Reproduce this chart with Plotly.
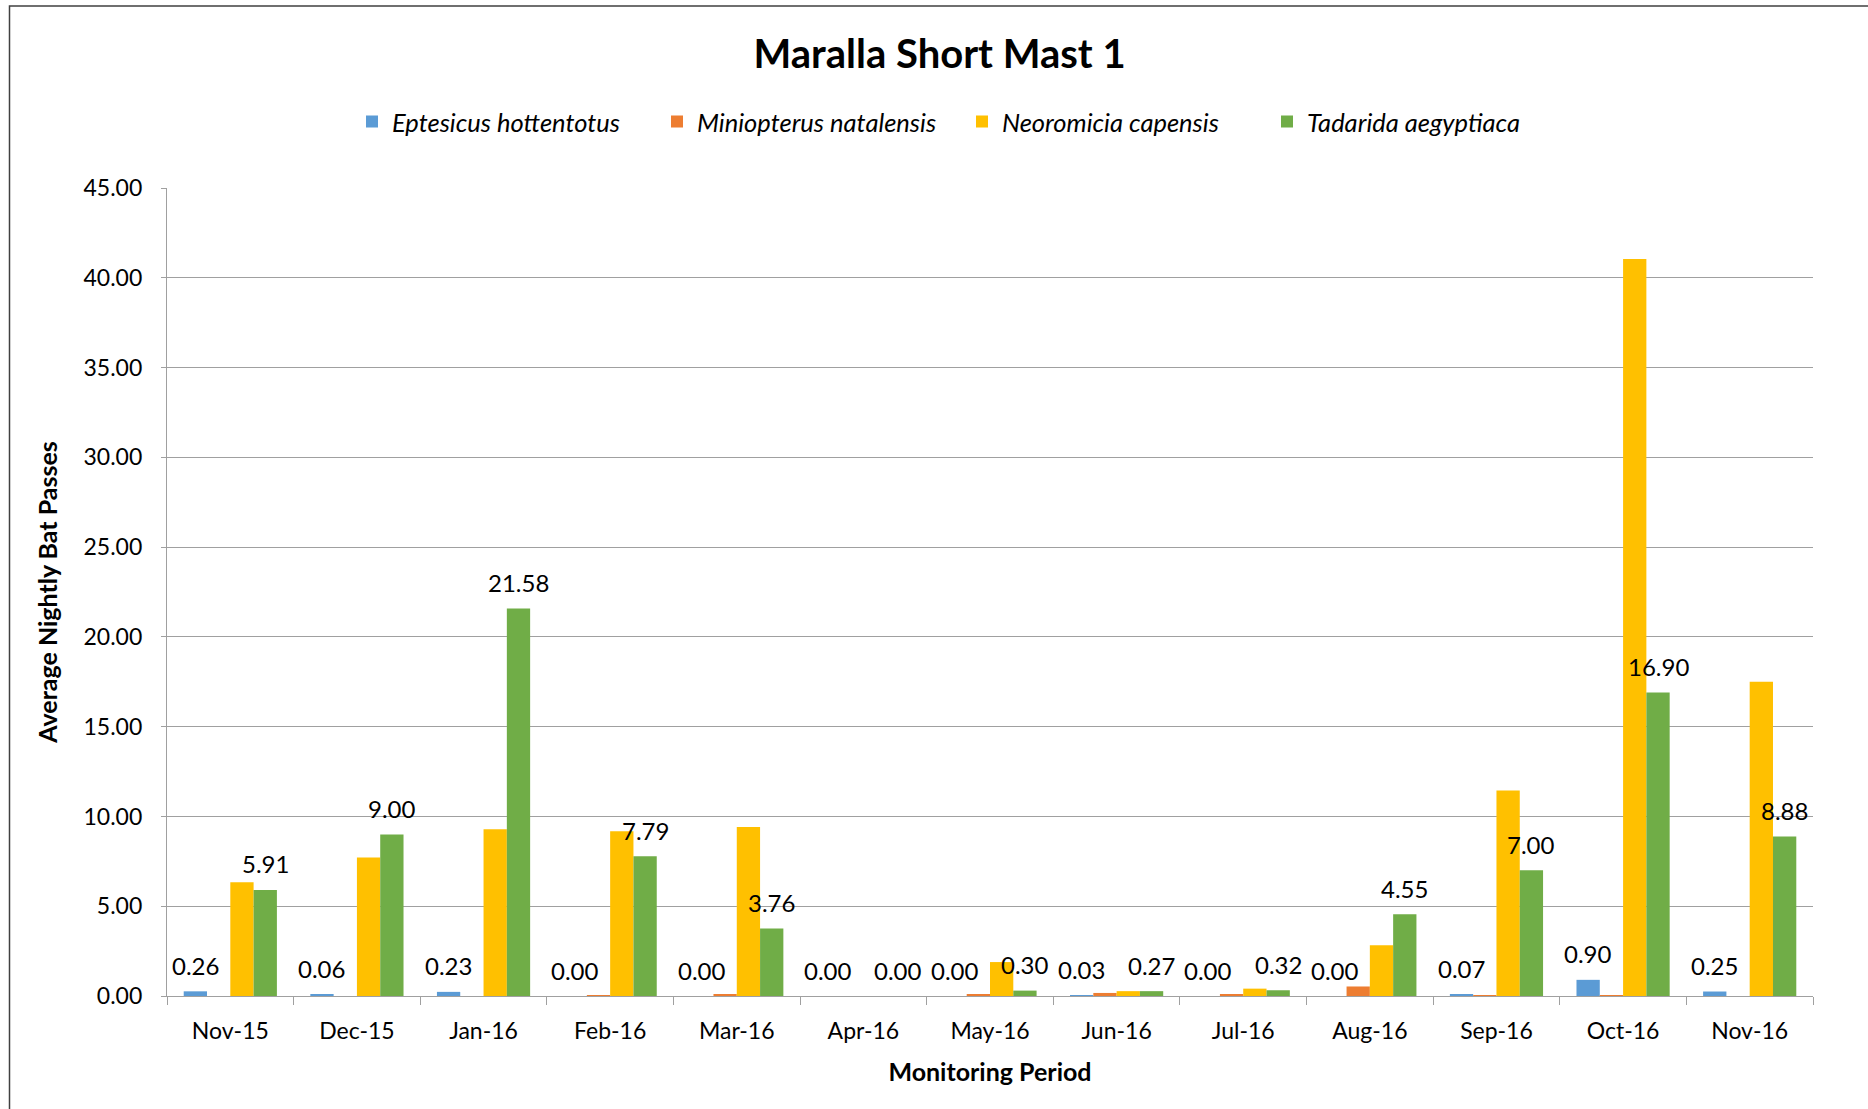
import plotly.graph_objects as go

months = ["Nov-15", "Dec-15", "Jan-16", "Feb-16", "Mar-16", "Apr-16", "May-16",
          "Jun-16", "Jul-16", "Aug-16", "Sep-16", "Oct-16", "Nov-16"]
eptesicus = [0.26, 0.06, 0.23, 0.00, 0.00, 0.00, 0.00, 0.03, 0.00, 0.00, 0.07, 0.90, 0.25]
miniopterus = [0.00, 0.00, 0.00, 0.02, 0.11, 0.00, 0.09, 0.17, 0.11, 0.53, 0.02, 0.03, 0.00]
neoromicia = [6.33, 7.72, 9.29, 9.17, 9.41, 0.00, 1.89, 0.27, 0.41, 2.82, 11.45, 41.05, 17.50]
tadarida = [5.91, 9.00, 21.58, 7.79, 3.76, 0.00, 0.30, 0.27, 0.32, 4.55, 7.00, 16.90, 8.88]

series_names = ["Eptesicus hottentotus", "Miniopterus natalensis",
                "Neoromicia capensis", "Tadarida aegyptiaca"]
series_values = [eptesicus, miniopterus, neoromicia, tadarida]
colors = ["#5B9BD5", "#ED7D31", "#FFC000", "#70AD47"]
labelled = [True, False, False, True]

FONT = "Lato"
W, H = 1868, 1109
ML, MR, MT, MB = 167, 55, 188, 113
BARGAP = 0.264
NS = len(series_names)

fig = go.Figure()
for name, vals, col in zip(series_names, series_values, colors):
    fig.add_trace(go.Bar(x=months, y=vals, name=name, marker_color=col,
                         marker_line_width=0))

bar_w = (1 - BARGAP) / NS
for k, (vals, lab) in enumerate(zip(series_values, labelled)):
    if not lab:
        continue
    off = (k - (NS - 1) / 2) * bar_w
    for i, v in enumerate(vals):
        fig.add_annotation(x=i + off, y=v, xref="x", yref="y", text=f"{v:.2f}",
                           showarrow=False, yanchor="middle", yshift=26,
                           font=dict(family=FONT, size=24, color="#000000"))

pw = W - ML - MR
ph = H - MT - MB
fig.add_shape(type="rect", xref="paper", yref="paper",
              x0=(9.5 - ML) / pw, x1=(W + 20 - ML) / pw,
              y0=-(MB + 20) / ph, y1=(H - MB - 6) / ph,
              line=dict(color="#404040", width=1.5), fillcolor="rgba(0,0,0,0)",
              layer="below")

fig.update_layout(
    width=W, height=H,
    margin=dict(l=ML, r=MR, t=MT, b=MB, pad=0),
    paper_bgcolor="white", plot_bgcolor="white",
    barmode="group", bargap=BARGAP, bargroupgap=0,
    font=dict(family=FONT, size=23, color="#000000"),
    title=dict(text="<b>Maralla Short Mast 1</b>", x=0.503, xref="container",
               y=1 - 54 / H, yref="container", xanchor="center", yanchor="middle",
               font=dict(family=FONT, size=40, color="#000000")),
    legend=dict(orientation="h", xref="container", yref="container",
                x=352 / W, xanchor="left", y=1 - 122 / H, yanchor="middle",
                font=dict(family=FONT, size=25.5, style="italic", color="#000000"),
                entrywidth=260, entrywidthmode="pixels", itemwidth=30,
                bgcolor="rgba(0,0,0,0)"),
    showlegend=True,
)
fig.update_xaxes(
    type="category", showline=True, linecolor="#a0a0a0", linewidth=1.3,
    ticks="outside", tickson="boundaries", ticklen=8, tickcolor="#a0a0a0",
    tickwidth=1.3, showgrid=False, ticklabelstandoff=14,
    tickfont=dict(family=FONT, size=23),
    title=dict(text="<b>Monitoring Period</b>", standoff=20,
               font=dict(family=FONT, size=25)),
)
fig.update_yaxes(
    range=[0, 45], dtick=5, tickformat=".2f", showline=True, linecolor="#a0a0a0",
    linewidth=1.3, ticks="outside", ticklen=5, tickcolor="#a0a0a0", tickwidth=1.3,
    showgrid=True, gridcolor="#a0a0a0", gridwidth=1.3, zeroline=False,
    ticklabelstandoff=14, tickfont=dict(family=FONT, size=23),
    title=dict(text="<b>Average Nightly Bat Passes</b>", standoff=18,
               font=dict(family=FONT, size=25)),
)

fig.write_html("out.html", config={"displayModeBar": False},
               post_script="document.body.style.margin='0';")
